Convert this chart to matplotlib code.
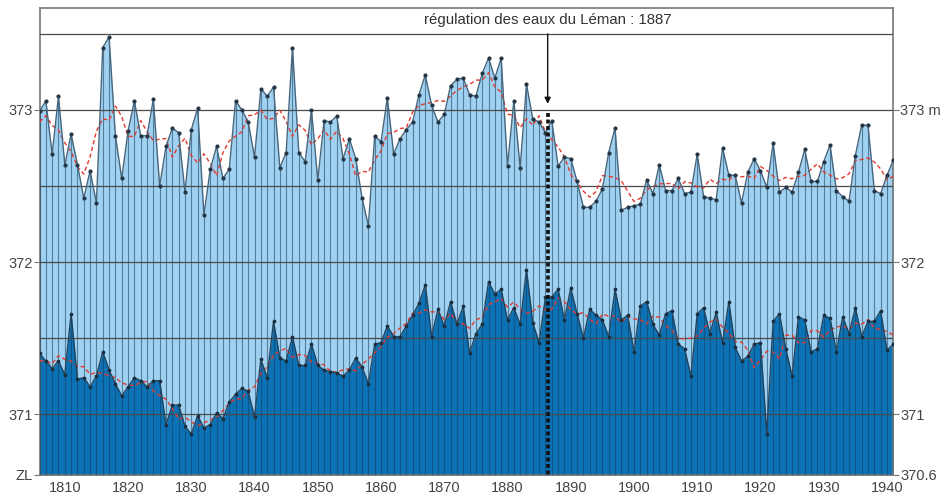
import matplotlib
matplotlib.use("Agg")
import matplotlib.pyplot as plt
import numpy as np
import pandas as pd

plt.rcParams['font.family'] = ['Liberation Sans', 'DejaVu Sans']

years = list(range(1806, 1942))

# annual maximum level of Lake Geneva (m)
level_max = [
    372.99, 373.06, 372.71, 373.09, 372.64, 372.84, 372.64, 372.42, 372.60, 372.39,  # 1806-1815
    373.41, 373.48, 372.83, 372.55, 372.86, 373.06, 372.83, 372.83, 373.07, 372.50,  # 1816-1825
    372.76, 372.88, 372.85, 372.46, 372.87, 373.01, 372.31, 372.61, 372.76, 372.55,  # 1826-1835
    372.61, 373.06, 373.00, 372.92, 372.69, 373.14, 373.09, 373.15, 372.62, 372.72,  # 1836-1845
    373.41, 372.72, 372.66, 373.00, 372.54, 372.93, 372.92, 372.96, 372.68, 372.81,  # 1846-1855
    372.68, 372.42, 372.24, 372.83, 372.79, 373.08, 372.71, 372.81, 372.87, 372.92,  # 1856-1865
    373.10, 373.23, 373.03, 372.92, 372.97, 373.16, 373.20, 373.21, 373.10, 373.09,  # 1866-1875
    373.24, 373.34, 373.21, 373.34, 372.63, 373.06, 372.62, 373.17, 372.94, 372.92,  # 1876-1885
    372.85, 372.93, 372.63, 372.69, 372.68, 372.53, 372.36, 372.36, 372.40, 372.48,  # 1886-1895
    372.72, 372.88, 372.34, 372.36, 372.37, 372.38, 372.54, 372.45, 372.64, 372.47,  # 1896-1905
    372.47, 372.55, 372.45, 372.46, 372.71, 372.43, 372.42, 372.41, 372.75, 372.57,  # 1906-1915
    372.57, 372.39, 372.59, 372.68, 372.60, 372.49, 372.78, 372.46, 372.49, 372.46,  # 1916-1925
    372.59, 372.74, 372.53, 372.53, 372.66, 372.77, 372.47, 372.43, 372.40, 372.70,  # 1926-1935
    372.90, 372.90, 372.47, 372.45, 372.57, 372.67,                                  # 1936-1941
]

# annual minimum level of Lake Geneva (m)
level_min = [
    371.40, 371.35, 371.30, 371.35, 371.26, 371.66, 371.23, 371.24, 371.18, 371.25,  # 1806-1815
    371.41, 371.29, 371.20, 371.12, 371.18, 371.24, 371.22, 371.18, 371.22, 371.22,  # 1816-1825
    370.93, 371.06, 371.06, 370.92, 370.87, 370.99, 370.91, 370.93, 371.01, 370.97,  # 1826-1835
    371.08, 371.13, 371.17, 371.15, 370.98, 371.36, 371.24, 371.61, 371.37, 371.35,  # 1836-1845
    371.51, 371.32, 371.32, 371.46, 371.32, 371.29, 371.28, 371.27, 371.25, 371.29,  # 1846-1855
    371.37, 371.31, 371.20, 371.46, 371.47, 371.58, 371.51, 371.51, 371.58, 371.65,  # 1856-1865
    371.73, 371.85, 371.51, 371.69, 371.58, 371.74, 371.59, 371.71, 371.40, 371.53,  # 1866-1875
    371.59, 371.87, 371.79, 371.82, 371.62, 371.70, 371.59, 371.95, 371.60, 371.47,  # 1876-1885
    371.77, 371.77, 371.82, 371.62, 371.83, 371.66, 371.50, 371.69, 371.65, 371.62,  # 1886-1895
    371.51, 371.82, 371.62, 371.65, 371.41, 371.71, 371.74, 371.59, 371.52, 371.66,  # 1896-1905
    371.68, 371.46, 371.43, 371.25, 371.66, 371.70, 371.53, 371.67, 371.47, 371.74,  # 1906-1915
    371.44, 371.35, 371.38, 371.46, 371.47, 370.87, 371.61, 371.66, 371.43, 371.25,  # 1916-1925
    371.64, 371.62, 371.41, 371.43, 371.65, 371.63, 371.41, 371.64, 371.53, 371.70,  # 1926-1935
    371.51, 371.61, 371.61, 371.68, 371.42, 371.46,                                  # 1936-1941
]

smooth_window = 5
y_ticks = [373, 372, 371, 370.6]
left_labels = ["373", "372", "371", "ZL"]
right_labels = ["373 m", "372", "371", "370.6"]
x_ticks = list(range(1810, 1941, 10))
grid_levels = [371.0, 371.5, 372.0, 372.5, 373.0, 373.5]
annot_text = "régulation des eaux du Léman : 1887"
arrow_x = 1886.35

base = 370.6
yrs = np.array(years)
vmax = np.array(level_max)
vmin = np.array(level_min)
smax = pd.Series(vmax).rolling(smooth_window, center=True, min_periods=1).mean()
smin = pd.Series(vmin).rolling(smooth_window, center=True, min_periods=1).mean()

fig = plt.figure(figsize=(9.4, 5.0), dpi=100)
ax = fig.add_axes([39.5 / 940, 25 / 500, (893.3 - 39.5) / 940, 467 / 500])
ax.set_xlim(1806, 1941)
ax.set_ylim(370.6, 373.67)

ax.fill_between(yrs, base, vmax, color='#a0d1f0', lw=0, zorder=1)
ax.fill_between(yrs, base, vmin, color='#0b73b5', lw=0, zorder=2)
ax.vlines(yrs, base, vmax, color='#123a5a', alpha=0.55, lw=0.8, zorder=3)

for g in grid_levels:
    ax.axhline(g, color='#4a4a4a', lw=0.9, zorder=4)

ax.plot(yrs, smax, color='#e23a2e', lw=1.0, ls=(0, (3, 2)), zorder=5)
ax.plot(yrs, smin, color='#e23a2e', lw=1.0, ls=(0, (3, 2)), zorder=5)
ax.plot(yrs, vmax, color='#46667e', lw=1.0, marker='o', ms=2.0,
        mfc='#243646', mec='#243646', zorder=6)
ax.plot(yrs, vmin, color='#23445e', lw=1.0, marker='o', ms=1.7,
        mfc='#1b2f40', mec='#1b2f40', zorder=6)

# regulation marker
ax.annotate('', xy=(arrow_x, 373.04), xytext=(arrow_x, 373.5),
            arrowprops=dict(arrowstyle='-|>', color='#111111', lw=1.0,
                            mutation_scale=9, shrinkA=0, shrinkB=0), zorder=8)
ax.plot([arrow_x, arrow_x], [372.98, base], color='#111111', lw=2.6,
        ls=(0, (1.1, 0.7)), zorder=8, solid_capstyle='butt')
ax.text(arrow_x, 373.59, annot_text, ha='center', va='center',
        fontsize=10.8, color='#333333', zorder=9)

for s in ax.spines.values():
    s.set_color('#777777')
    s.set_linewidth(1.2)

ax.set_yticks(y_ticks)
ax.set_yticklabels(left_labels)
ax.tick_params(axis='y', length=4, width=0.8, color='#777777', labelcolor='#444444',
               labelsize=10.5, pad=1, left=True, right=True)
ax.set_xticks(x_ticks)
ax.set_xticklabels([str(t) for t in x_ticks])
ax.tick_params(axis='x', length=0, labelcolor='#444444', labelsize=10.5, pad=4)

ax2 = ax.twinx()
ax2.set_ylim(ax.get_ylim())
ax2.set_yticks(y_ticks)
ax2.set_yticklabels(right_labels)
ax2.tick_params(axis='y', length=4, width=0.8, color='#777777', labelcolor='#444444',
                labelsize=10.5, pad=1)
for s in ax2.spines.values():
    s.set_visible(False)

fig.savefig('out.png', dpi=100)
